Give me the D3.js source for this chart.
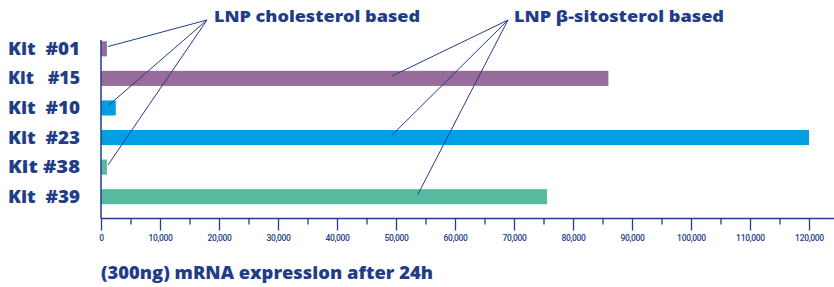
<!DOCTYPE html>
<html>
<head>
<meta charset="utf-8">
<script src="https://cdn.jsdelivr.net/npm/d3@7"></script>
<style>
  body { margin: 0; background: #fff; }
  svg { display: block; }
  text { fill: #1f3e87; }
</style>
</head>
<body>
<div id="chart"></div>
<script>
// data
var kits   = ['Kit  #01', 'Kit   #15', 'Kit  #10', 'Kit  #23', 'Kit #38', 'Kit  #39'];
var values = [1000, 86000, 2500, 120000, 1000, 75600];
var groups = ['purple', 'purple', 'blue', 'blue', 'green', 'green'];
var tickValues = d3.range(0, 120001, 5000);
var axisTitle = '(300ng) mRNA expression after 24h';

// annotation callouts: label + which bars it points to (value along bar)
var cholLabel = 'LNP cholesterol based';
var cholKits = ['Kit  #01', 'Kit  #10', 'Kit #38'];
var cholAt = [1200, 1200, 1200];
var sitoLabel = 'LNP β-sitosterol based';
var sitoKits = ['Kit   #15', 'Kit  #23', 'Kit  #39'];
var sitoAt = [49300, 49300, 53700];

var colors = { purple: '#976c9b', blue: '#009fe3', green: '#56b9a0' };
var navy = '#1f3e87';
var font = '"Open Sans", Roboto, sans-serif';

var W = 834, H = 287;
var svg = d3.select('#chart').append('svg')
    .attr('width', W)
    .attr('height', H);

var xScale = d3.scaleLinear().domain([0, 120000]).range([101, 809]);
var yScale = d3.scaleBand().domain(kits).range([34, 211.5])
    .paddingInner(0.49)
    .paddingOuter(0.245);
var axisY = 218.5;

// bars
svg.selectAll('.bar')
    .data(kits)
    .enter()
    .append('rect')
    .attr('class', 'bar')
    .attr('x', xScale(0))
    .attr('y', function (d) { return yScale(d); })
    .attr('height', yScale.bandwidth())
    .attr('width', function (d, i) { return xScale(values[i]) - xScale(0); })
    .attr('fill', function (d, i) { return colors[groups[i]]; });

// y axis line + kit labels
svg.append('line')
    .attr('x1', xScale(0)).attr('x2', xScale(0))
    .attr('y1', 40).attr('y2', axisY)
    .attr('stroke', navy).attr('stroke-width', 1.5);

svg.selectAll('.kit')
    .data(kits)
    .enter()
    .append('text')
    .attr('class', 'kit')
    .attr('x', 8)
    .attr('y', function (d) { return yScale(d) + yScale.bandwidth() / 2; })
    .attr('dy', '0.36em')
    .attr('textLength', 72)
    .attr('lengthAdjust', 'spacingAndGlyphs')
    .style('white-space', 'pre')
    .style('font-family', font)
    .style('font-weight', '800')
    .style('font-size', '17px')
    .text(function (d) { return d; });

// x axis
var xAxisG = svg.append('g')
    .attr('transform', 'translate(0,' + axisY + ')');

xAxisG.call(d3.axisBottom(xScale)
    .tickValues(tickValues)
    .tickSize(0)
    .tickFormat(function (d) { return d % 10000 === 0 ? d3.format(',')(d) : ''; }));

xAxisG.select('.domain').remove();
xAxisG.selectAll('.tick line')
    .attr('stroke', navy)
    .attr('stroke-width', 1.3)
    .attr('y2', function (d) { return d % 10000 === 0 ? 12 : 6; });
xAxisG.selectAll('.tick text')
    .attr('y', 16)
    .attr('fill', navy)
    .style('font-family', 'Roboto, sans-serif')
    .style('font-size', '8.5px')
    .style('font-weight', '500')
    .style('letter-spacing', '-0.3px');

xAxisG.append('line')
    .attr('x1', xScale(0)).attr('x2', W)
    .attr('y1', 0).attr('y2', 0)
    .attr('stroke', navy).attr('stroke-width', 1.5);

svg.append('text')
    .attr('x', xScale(0))
    .attr('y', 279)
    .style('font-family', font)
    .style('font-weight', '800')
    .style('font-size', '17px')
    .attr('textLength', 332)
    .attr('lengthAdjust', 'spacingAndGlyphs')
    .text(axisTitle);

// callouts
function callout(label, origin, textX, textLen, targets, at) {
    targets.forEach(function (k, i) {
        svg.append('line')
            .attr('x1', origin[0]).attr('y1', origin[1])
            .attr('x2', xScale(at[i]))
            .attr('y2', yScale(k) + yScale.bandwidth() * 0.35)
            .attr('stroke', navy).attr('stroke-width', 1);
    });
    svg.append('text')
        .attr('x', textX)
        .attr('y', 22)
        .attr('textLength', textLen)
        .attr('lengthAdjust', 'spacingAndGlyphs')
        .style('font-family', font)
        .style('font-weight', '800')
        .style('font-size', '16px')
        .text(label);
}
callout(cholLabel, [207, 20], 214, 206, cholKits, cholAt);
callout(sitoLabel, [508, 20], 514, 210, sitoKits, sitoAt);
</script>
</body>
</html>
